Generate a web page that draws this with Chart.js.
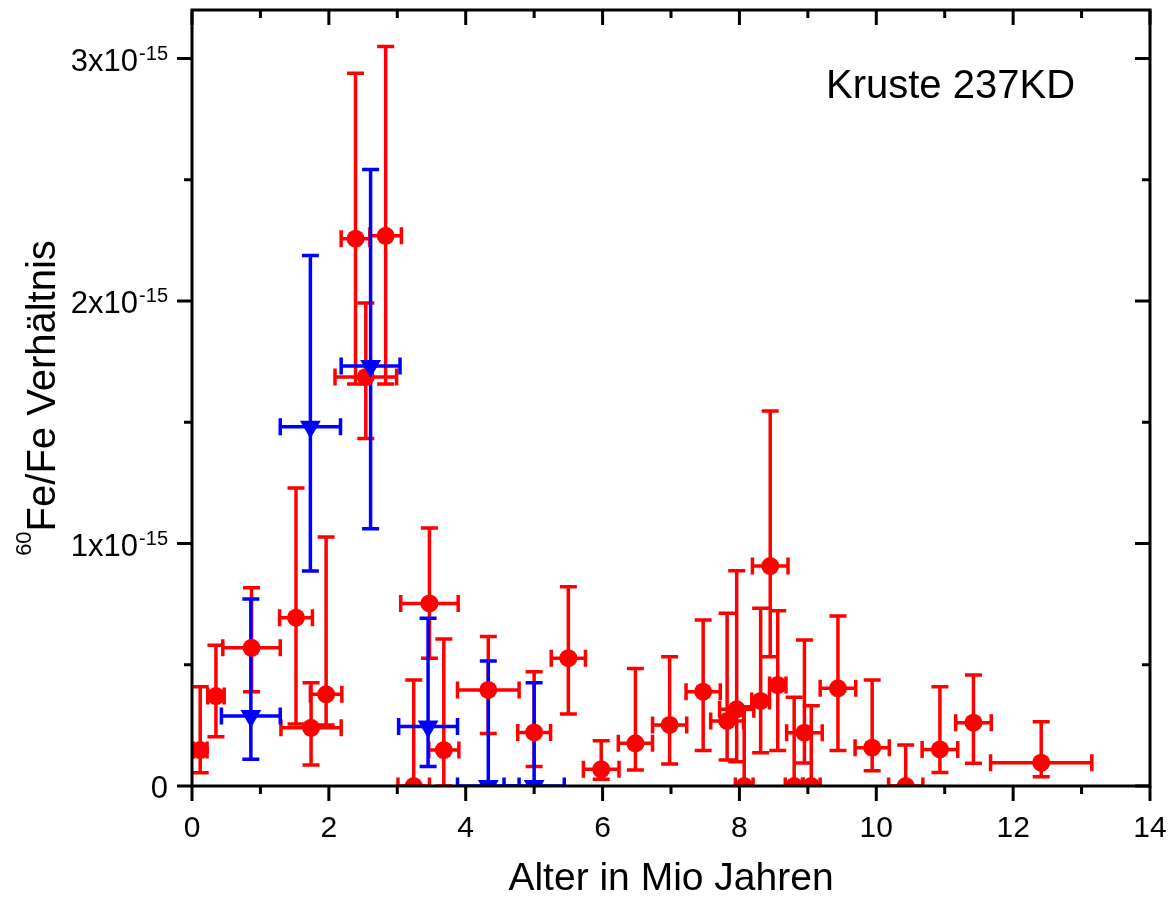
<!DOCTYPE html>
<html>
<head>
<meta charset="utf-8">
<script src="https://cdn.jsdelivr.net/npm/chart.js@4.4.1/dist/chart.umd.min.js"></script>
<style>
  html, body { margin: 0; padding: 0; background: #fff; }
</style>
</head>
<body>
<canvas id="chart" width="1175" height="899"></canvas>
<script>
// 60Fe/Fe ratios are kept in units of 1e-15
const redAge    = [0.12, 0.35, 0.87, 1.52, 1.74, 1.96, 2.39, 2.54, 2.83, 3.24, 3.47, 3.68, 4.33, 5.00, 5.50, 5.98, 6.48, 6.98, 7.47, 7.82, 7.96, 8.07, 8.31, 8.45, 8.56, 8.80, 8.95, 9.05, 9.44, 9.94, 10.43, 10.93, 11.42, 12.41];
const redAgeErr = [0.10, 0.12, 0.42, 0.24, 0.44, 0.23, 0.21, 0.45, 0.23, 0.23, 0.42, 0.22, 0.45, 0.24, 0.25, 0.26, 0.25, 0.25, 0.25, 0.24, 0.25, 0.13, 0.13, 0.26, 0.12, 0.13, 0.26, 0.13, 0.26, 0.25, 0.25, 0.26, 0.26, 0.74];
const redRatio  = [0.148, 0.371, 0.570, 0.694, 0.240, 0.378, 2.257, 1.687, 2.269, 0, 0.753, 0.148, 0.396, 0.221, 0.527, 0.069, 0.176, 0.252, 0.389, 0.268, 0.316, 0, 0.351, 0.907, 0.416, 0, 0.220, 0, 0.403, 0.158, 0, 0.151, 0.261, 0.096];
const redLow    = [0.055, 0.203, 0.389, 0.256, 0.087, 0.252, 1.658, 1.433, 1.658, 0, 0.527, 0, 0.217, 0.080, 0.297, 0.028, 0.066, 0.091, 0.146, 0.107, 0.100, 0, 0.137, 0.533, 0.146, 0, 0.095, 0, 0.146, 0.063, 0, 0.056, 0.094, 0.038];
const redHigh   = [0.409, 0.580, 0.818, 1.229, 0.426, 1.027, 2.939, 1.992, 3.050, 0.437, 1.064, 0.606, 0.616, 0.471, 0.822, 0.187, 0.485, 0.533, 0.685, 0.712, 0.888, 0.327, 0.733, 1.546, 0.723, 0.366, 0.602, 0.331, 0.701, 0.437, 0.169, 0.409, 0.458, 0.265];

const blueAge    = [0.86, 1.73, 2.61, 3.45, 4.33, 5.00];
const blueAgeErr = [0.43, 0.44, 0.43, 0.43, 0.45, 0.44];
const blueRatio  = [0.289, 1.481, 1.732, 0.245, 0, 0];
const blueLow    = [0.110, 0.887, 1.061, 0.080, 0, 0];
const blueHigh   = [0.771, 2.188, 2.542, 0.692, 0.515, 0.426];

const xMajorTicks = [0, 2, 4, 6, 8, 10, 12, 14];
const xMinorTicks = [1, 3, 5, 7, 9, 11, 13];
const yMajorTicks = [0, 1, 2, 3];
const yMinorTicks = [0.5, 1.5, 2.5];
const yTickMantissa = ['0', '1x10', '2x10', '3x10'];
const yTickExponent = ['', '-15', '-15', '-15'];

const FONT = "'Liberation Sans', Arial, sans-serif";

function makePoints(age, ageErr, ratio, low, high) {
  return age.map((a, i) => ({ x: a, y: ratio[i], xErr: ageErr[i], yLow: low[i], yHigh: high[i] }));
}

// error bars are drawn under the markers, through the chart scales
const errorBars = {
  id: 'errorBars',
  beforeDatasetsDraw(chart) {
    const { ctx, chartArea: a, scales: { x, y } } = chart;
    const cap = 8.5;
    ctx.save();
    ctx.beginPath();
    ctx.rect(a.left, a.top, a.right - a.left, a.bottom - a.top);
    ctx.clip();
    ctx.lineWidth = 3.5;
    chart.data.datasets.forEach(ds => {
      ctx.strokeStyle = ds.backgroundColor;
      ds.data.forEach(p => {
        const px = x.getPixelForValue(p.x);
        const py = y.getPixelForValue(p.y);
        const x0 = x.getPixelForValue(p.x - p.xErr);
        const x1 = x.getPixelForValue(p.x + p.xErr);
        const y0 = y.getPixelForValue(p.yLow);
        const y1 = y.getPixelForValue(p.yHigh);
        ctx.beginPath();
        ctx.moveTo(px, y0); ctx.lineTo(px, y1);
        ctx.moveTo(px - cap, y0); ctx.lineTo(px + cap, y0);
        ctx.moveTo(px - cap, y1); ctx.lineTo(px + cap, y1);
        ctx.moveTo(x0, py); ctx.lineTo(x1, py);
        ctx.moveTo(x0, py - cap); ctx.lineTo(x0, py + cap);
        ctx.moveTo(x1, py - cap); ctx.lineTo(x1, py + cap);
        ctx.stroke();
      });
    });
    ctx.restore();
  }
};

// frame, ticks on all four sides, tick labels (y with exponents), texts
const frameAndLabels = {
  id: 'frameAndLabels',
  afterDraw(chart) {
    const { ctx, chartArea: a, scales: { x, y } } = chart;
    const major = 15, minor = 8;
    ctx.save();
    ctx.strokeStyle = '#000';
    ctx.lineWidth = 3;
    ctx.strokeRect(a.left, a.top, a.right - a.left, a.bottom - a.top);

    ctx.beginPath();
    const xTick = (v, len) => {
      const px = x.getPixelForValue(v);
      ctx.moveTo(px, a.bottom); ctx.lineTo(px, a.bottom + len);
      ctx.moveTo(px, a.top); ctx.lineTo(px, a.top + len);
    };
    const yTick = (v, len) => {
      const py = y.getPixelForValue(v);
      ctx.moveTo(a.left, py); ctx.lineTo(a.left - len, py);
      ctx.moveTo(a.right, py); ctx.lineTo(a.right - len, py);
    };
    xMajorTicks.forEach(v => xTick(v, major));
    xMinorTicks.forEach(v => xTick(v, minor));
    yMajorTicks.forEach(v => yTick(v, major));
    yMinorTicks.forEach(v => yTick(v, minor));
    ctx.stroke();

    ctx.fillStyle = '#000';
    ctx.textBaseline = 'alphabetic';

    ctx.textAlign = 'center';
    ctx.font = '30px ' + FONT;
    xMajorTicks.forEach(v => {
      ctx.fillText(String(v), x.getPixelForValue(v), a.bottom + 51);
    });

    ctx.textAlign = 'right';
    const labelRight = 168;
    yMajorTicks.forEach((v, i) => {
      const py = y.getPixelForValue(v);
      let right = labelRight;
      if (yTickExponent[i]) {
        ctx.font = '20px ' + FONT;
        ctx.fillText(yTickExponent[i], right, py + 1);
        right -= ctx.measureText(yTickExponent[i]).width + 1;
      }
      ctx.font = '31px ' + FONT;
      ctx.fillText(yTickMantissa[i], right, py + 12);
    });

    // y axis title with superscript mass number
    ctx.translate(55, (a.top + a.bottom) / 2);
    ctx.rotate(-Math.PI / 2);
    ctx.textAlign = 'left';
    ctx.font = '22px ' + FONT;
    const supW = ctx.measureText('60').width;
    ctx.font = '40px ' + FONT;
    const mainW = ctx.measureText('Fe/Fe Verhältnis').width;
    const start = -(supW + mainW) / 2;
    ctx.fillText('Fe/Fe Verhältnis', start + supW, 0);
    ctx.font = '22px ' + FONT;
    ctx.fillText('60', start, -24);
    ctx.setTransform(1, 0, 0, 1, 0, 0);

    ctx.font = '40px ' + FONT;
    ctx.fillText('Kruste 237KD', 826, 98);
    ctx.restore();
  }
};

new Chart(document.getElementById('chart'), {
  type: 'scatter',
  data: {
    datasets: [
      {
        label: 'rot',
        data: makePoints(redAge, redAgeErr, redRatio, redLow, redHigh),
        backgroundColor: '#ff0000',
        borderWidth: 0,
        pointStyle: 'circle',
        pointRadius: 9,
        order: 1
      },
      {
        label: 'blau',
        data: makePoints(blueAge, blueAgeErr, blueRatio, blueLow, blueHigh),
        backgroundColor: '#0000ff',
        borderWidth: 0,
        pointStyle: 'triangle',
        pointRotation: 180,
        pointRadius: 12,
        order: 0
      }
    ]
  },
  options: {
    responsive: false,
    animation: false,
    devicePixelRatio: 1,
    layout: { autoPadding: false, padding: { top: 10, right: 25, bottom: 0, left: 0 } },
    plugins: {
      legend: { display: false },
      tooltip: { enabled: false }
    },
    scales: {
      x: {
        type: 'linear',
        min: 0,
        max: 14,
        grid: { display: false, drawTicks: false },
        border: { display: false },
        ticks: { display: false, stepSize: 1 },
        title: {
          display: true,
          text: 'Alter in Mio Jahren',
          color: '#000',
          padding: 0,
          font: { family: FONT, size: 39, lineHeight: 1 }
        },
        afterFit(scale) { scale.height = 113; }
      },
      y: {
        type: 'linear',
        min: 0,
        max: 3.2,
        grid: { display: false, drawTicks: false },
        border: { display: false },
        ticks: { display: false },
        afterFit(scale) { scale.width = 192; }
      }
    }
  },
  plugins: [errorBars, frameAndLabels]
});
</script>
</body>
</html>
